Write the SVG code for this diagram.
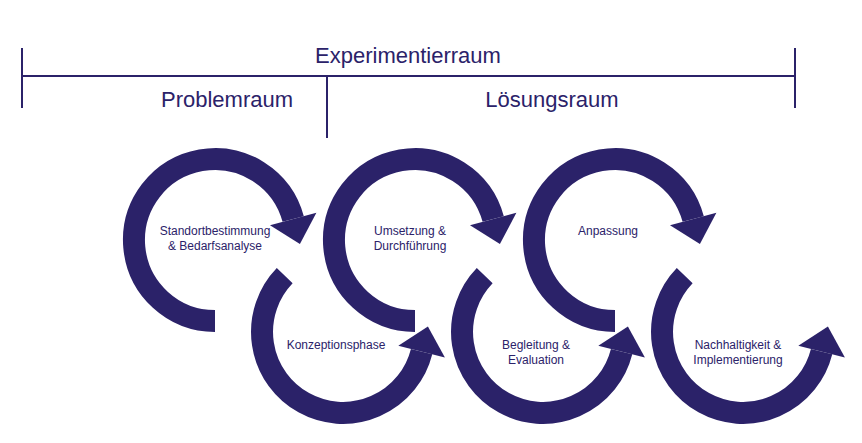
<svg xmlns="http://www.w3.org/2000/svg" width="862" height="443" viewBox="0 0 862 443">
<style>
.band{fill:none;stroke:#2b2269;stroke-width:22;stroke-linecap:butt}
.head{fill:#2b2269}
.ln{stroke:#2b2269;stroke-width:2;fill:none}
text{font-family:"Liberation Sans",Arial,sans-serif;fill:#2b2269;text-anchor:middle}
.h{font-size:22px}
.l{font-size:12px}
</style>
<rect width="862" height="443" fill="#fff"/>
<g id="bracket">
<path class="ln" d="M22 76H795M22 48V108M795 48V108M327 76V138"/>
<text class="h" x="408" y="63">Experimentierraum</text>
<text class="h" x="227" y="107">Problemraum</text>
<text class="h" x="552" y="107">Lösungsraum</text>
</g>
<g id="connectors">
<g id="a1"><path class="band" d="M215 321A81 81 0 1 1 293.2 219"/><polygon class="head" points="316.4,212.8 270,225.2 299.9,244.1"/></g>
<g id="a2"><path class="band" d="M284.7 275.7A81 81 0 1 0 421.6 351.6"/><polygon class="head" points="444.9,357.4 398.3,345.8 427.9,326.4"/></g>
<g id="a3"><path class="band" d="M415 321A81 81 0 1 1 493.2 219"/><polygon class="head" points="516.4,212.8 470,225.2 499.9,244.1"/></g>
<g id="a4"><path class="band" d="M484.7 275.7A81 81 0 1 0 621.6 351.6"/><polygon class="head" points="644.9,357.4 598.3,345.8 627.9,326.4"/></g>
<g id="a5"><path class="band" d="M615 321A81 81 0 1 1 693.2 219"/><polygon class="head" points="716.4,212.8 670,225.2 699.9,244.1"/></g>
<g id="a6"><path class="band" d="M684.7 275.7A81 81 0 1 0 821.6 351.6"/><polygon class="head" points="844.9,357.4 798.3,345.8 827.9,326.4"/></g>
</g>
<g id="n1"><text class="l" x="215" y="235">Standortbestimmung</text><text class="l" x="215" y="250">&amp; Bedarfsanalyse</text></g>
<g id="n2"><text class="l" x="336" y="349">Konzeptionsphase</text></g>
<g id="n3"><text class="l" x="410" y="235">Umsetzung &amp;</text><text class="l" x="410" y="250">Durchführung</text></g>
<g id="n4"><text class="l" x="536" y="349">Begleitung &amp;</text><text class="l" x="536" y="364">Evaluation</text></g>
<g id="n5"><text class="l" x="608" y="235">Anpassung</text></g>
<g id="n6"><text class="l" x="738" y="349">Nachhaltigkeit &amp;</text><text class="l" x="738" y="364">Implementierung</text></g>
</svg>
